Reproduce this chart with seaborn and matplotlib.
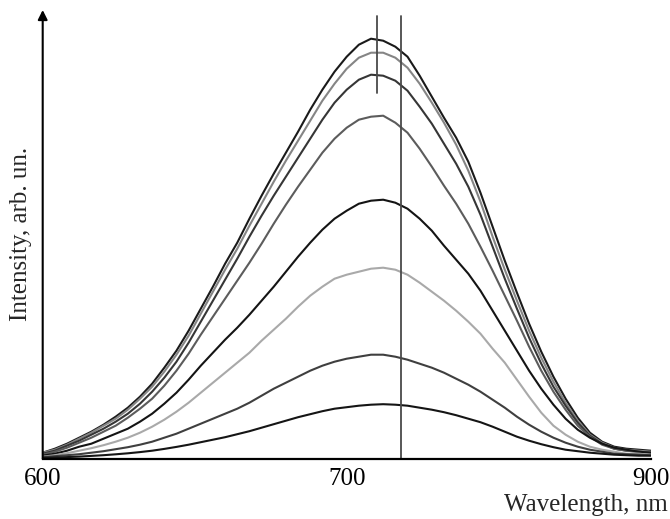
import numpy as np
import pandas as pd
import matplotlib
matplotlib.use("Agg")
import matplotlib.pyplot as plt
import seaborn as sns

# Wavelength grid (nm): 4 nm steps up to 700, 8 nm steps beyond
wavelength = [600, 604, 608, 612, 616, 620, 624, 628, 632, 636, 640, 644, 648,
              652, 656, 660, 664, 668, 672, 676, 680, 684, 688, 692, 696, 700,
              708, 716, 724, 732, 740, 748, 756, 764, 772, 780, 788, 796, 804,
              812, 820, 828, 836, 844, 852, 860, 868, 876, 884, 892, 900]

# Emission spectra, arbitrary units (top to bottom)
spec_1 = [6, 10, 15, 21, 27, 34, 42, 51, 62, 75, 91, 108, 128, 150, 172, 195,
          216, 240, 263, 285, 306, 327, 349, 369, 387, 402,
          414, 420, 418, 412, 402, 383, 362, 341, 321, 297, 266, 232, 198,
          166, 135, 107, 82, 60, 41, 26, 17, 12, 10, 9, 8]
spec_2 = [6, 9, 14, 20, 26, 33, 40, 49, 60, 72, 87, 104, 123, 145, 167, 189,
          210, 233, 255, 277, 298, 318, 338, 358, 375, 390,
          401, 406, 406, 401, 391, 375, 356, 336, 314, 288, 257, 222, 189,
          158, 128, 101, 77, 56, 38, 24, 16, 11, 9, 8, 7]
spec_3 = [5, 8, 13, 18, 24, 30, 37, 45, 55, 67, 81, 97, 116, 137, 158, 179,
          200, 222, 243, 263, 282, 301, 320, 339, 356, 369,
          379, 384, 383, 378, 368, 352, 335, 315, 295, 272, 244, 212, 180,
          150, 121, 95, 72, 53, 36, 23, 15, 10, 8, 7, 6]
spec_4 = [4, 7, 11, 16, 21, 27, 33, 41, 50, 60, 73, 88, 105, 124, 142, 160,
          178, 196, 215, 235, 254, 272, 289, 306, 320, 331,
          339, 342, 343, 336, 326, 310, 292, 273, 255, 235, 212, 188, 163,
          138, 112, 88, 67, 49, 33, 22, 14, 10, 8, 7, 6]
spec_5 = [3, 5, 8, 12, 15, 20, 25, 30, 37, 45, 55, 66, 79, 93, 106, 119,
          131, 144, 158, 172, 187, 202, 216, 229, 240, 248,
          255, 258, 259, 256, 250, 240, 228, 213, 199, 185, 168, 148, 128,
          108, 88, 70, 54, 40, 29, 21, 15, 11, 9, 7, 6]
spec_6 = [2, 3.5, 5.5, 8, 10.5, 13.5, 17, 21, 26, 32, 39, 47, 56, 66, 76, 86,
          96, 106, 118, 129, 140, 152, 163, 172, 180, 184,
          187, 190, 191, 189, 184, 176, 167, 158, 148, 137, 125, 110, 96,
          79, 62, 46, 33, 24, 17, 12, 9, 7, 5, 5, 4]
spec_7 = [1.5, 2.5, 3.5, 4.5, 6, 7.5, 9.5, 11.5, 14, 17, 21, 25, 30, 35, 40,
          45, 50, 56, 63, 70, 76, 82, 88, 93, 97, 100,
          102, 104, 104, 102, 99, 95, 91, 86, 80, 74, 67, 59, 51,
          42, 34, 27, 21, 16, 12, 9, 7, 5, 4.5, 4, 3.5]
spec_8 = [0.8, 1.2, 1.6, 2.1, 2.8, 3.5, 4.4, 5.4, 6.6, 8, 9.8, 11.8, 14, 16.5,
          19, 21.5, 24.5, 27.5, 31, 34.5, 38, 41.5, 44.5, 47.5, 50, 51.5,
          53, 54, 54.5, 54, 53, 51, 49, 46.5, 43.5, 40, 36.5, 32, 27,
          22, 18, 14.5, 11.5, 9, 7.5, 6, 5, 4, 3.5, 3, 3]

series = [spec_1, spec_2, spec_3, spec_4, spec_5, spec_6, spec_7, spec_8]
shades = ["#1a1a1a", "#858585", "#363636", "#5c5c5c",
          "#141414", "#a9a9a9", "#3f3f3f", "#151515"]

# Marker lines (nm)
marker_long = 735.5
marker_short = 720.0

x_ticks = [600, 700, 900]
x_tick_labels = ["600", "700", "900"]

frames = []
for i, vals in enumerate(series):
    frames.append(pd.DataFrame({"wavelength": wavelength,
                                "intensity": vals,
                                "curve": f"s{i + 1}"}))
df = pd.concat(frames, ignore_index=True)

sns.set_theme(style="white")
plt.rcParams["font.family"] = ["Liberation Serif", "DejaVu Serif"]

fig = plt.figure(figsize=(6.70, 5.19), dpi=100)
ax = fig.add_axes([42.7 / 670, 60.3 / 519, 608 / 670, 448.7 / 519])

palette = {f"s{i + 1}": c for i, c in enumerate(shades)}
sns.lineplot(data=df, x="wavelength", y="intensity", hue="curve",
             palette=palette, legend=False, linewidth=1.5, ax=ax,
             solid_joinstyle="round")


def fwd(x):
    x = np.asarray(x, dtype=float)
    return np.where(x <= 700, x, 700 + (x - 700) / 2.0)


def inv(y):
    y = np.asarray(y, dtype=float)
    return np.where(y <= 700, y, 700 + (y - 700) * 2.0)


ax.set_xscale("function", functions=(fwd, inv))
ax.set_xlim(600, 900)
ax.set_ylim(0, 448.7)

# vertical marker lines
ax.plot([marker_long, marker_long], [0, 442.7], color="#4a4a4a", lw=1.3)
ax.plot([marker_short, marker_short], [365.7, 442.7], color="#4a4a4a", lw=1.3)

ax.set_xticks(x_ticks)
ax.set_xticklabels(x_tick_labels)
ax.set_yticks([])
ax.tick_params(axis="x", direction="in", length=6.5, width=1.4,
               labelsize=18, pad=7, colors="black")
ax.xaxis.set_minor_locator(matplotlib.ticker.NullLocator())

for side in ("top", "right", "left"):
    ax.spines[side].set_visible(False)
ax.spines["bottom"].set_linewidth(1.6)
ax.spines["bottom"].set_color("black")

# y axis drawn as an arrow
ax.annotate("", xy=(0, 1.0), xytext=(0, 0), xycoords="axes fraction",
            arrowprops=dict(arrowstyle="-|>", lw=1.5, color="black",
                            mutation_scale=14, shrinkA=0, shrinkB=0),
            annotation_clip=False)

ax.set_xlabel("Wavelength, nm", fontsize=18, ha="right", va="center")
ax.xaxis.set_label_coords(1.0285, -0.103)
ax.set_ylabel("Intensity, arb. un.", fontsize=18, va="center")
ax.yaxis.set_label_coords(-0.0357, 0.5)

fig.savefig("out.png", dpi=100, facecolor="white")
